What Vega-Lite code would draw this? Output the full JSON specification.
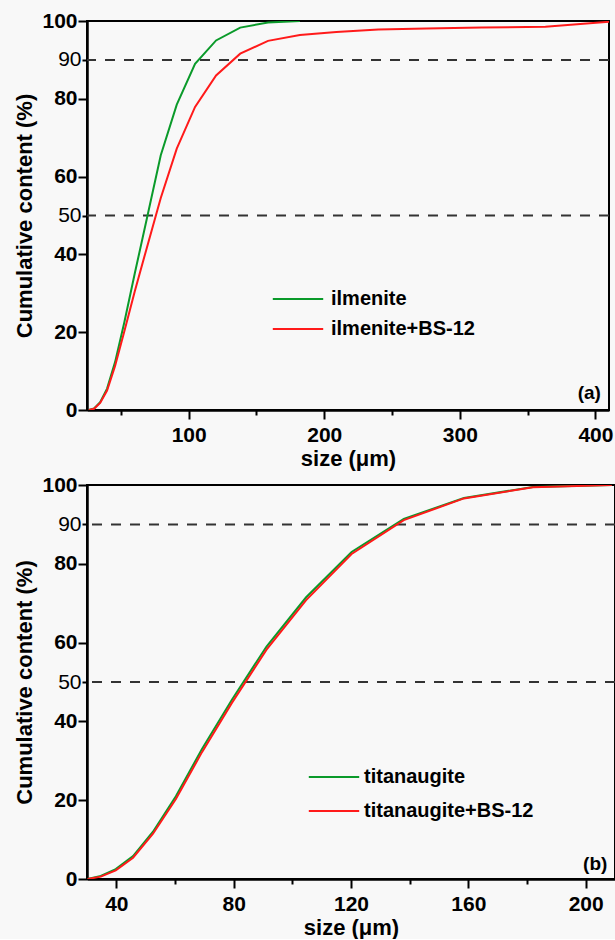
{
  "$schema": "https://vega.github.io/schema/vega-lite/v6.json",
  "background": "#f8f8f8",
  "padding": {"left": 12, "top": 9, "right": 2, "bottom": 0},
  "datasets": {
    "ilm": [
      {"size": 26.3, "cum": 0, "sample": "ilmenite"},
      {"size": 30.2, "cum": 0.4, "sample": "ilmenite"},
      {"size": 34.7, "cum": 2.0, "sample": "ilmenite"},
      {"size": 39.8, "cum": 5.5, "sample": "ilmenite"},
      {"size": 45.7, "cum": 12.3, "sample": "ilmenite"},
      {"size": 52.5, "cum": 22.5, "sample": "ilmenite"},
      {"size": 60.3, "cum": 35.2, "sample": "ilmenite"},
      {"size": 69.2, "cum": 49.3, "sample": "ilmenite"},
      {"size": 79.4, "cum": 65.5, "sample": "ilmenite"},
      {"size": 91.2, "cum": 78.5, "sample": "ilmenite"},
      {"size": 104.7, "cum": 89, "sample": "ilmenite"},
      {"size": 120.2, "cum": 95, "sample": "ilmenite"},
      {"size": 138, "cum": 98.3, "sample": "ilmenite"},
      {"size": 158.5, "cum": 99.6, "sample": "ilmenite"},
      {"size": 182, "cum": 100, "sample": "ilmenite"},
      {"size": 26.3, "cum": 0, "sample": "ilmenite+BS-12"},
      {"size": 30.2, "cum": 0.3, "sample": "ilmenite+BS-12"},
      {"size": 34.7, "cum": 1.8, "sample": "ilmenite+BS-12"},
      {"size": 39.8, "cum": 5.0, "sample": "ilmenite+BS-12"},
      {"size": 45.7, "cum": 11.3, "sample": "ilmenite+BS-12"},
      {"size": 52.5, "cum": 20.2, "sample": "ilmenite+BS-12"},
      {"size": 60.3, "cum": 30.6, "sample": "ilmenite+BS-12"},
      {"size": 69.2, "cum": 41.8, "sample": "ilmenite+BS-12"},
      {"size": 79.4, "cum": 54.5, "sample": "ilmenite+BS-12"},
      {"size": 91.2, "cum": 67.2, "sample": "ilmenite+BS-12"},
      {"size": 104.7, "cum": 77.9, "sample": "ilmenite+BS-12"},
      {"size": 120.2, "cum": 86, "sample": "ilmenite+BS-12"},
      {"size": 138, "cum": 91.6, "sample": "ilmenite+BS-12"},
      {"size": 158.5, "cum": 94.9, "sample": "ilmenite+BS-12"},
      {"size": 182, "cum": 96.4, "sample": "ilmenite+BS-12"},
      {"size": 208.9, "cum": 97.2, "sample": "ilmenite+BS-12"},
      {"size": 239.9, "cum": 97.8, "sample": "ilmenite+BS-12"},
      {"size": 275.4, "cum": 98.1, "sample": "ilmenite+BS-12"},
      {"size": 316.2, "cum": 98.3, "sample": "ilmenite+BS-12"},
      {"size": 363.1, "cum": 98.5, "sample": "ilmenite+BS-12"},
      {"size": 416.9, "cum": 100, "sample": "ilmenite+BS-12"}
    ],
    "tit": [
      {"size": 30.2, "cum": 0, "sample": "titanaugite"},
      {"size": 34.7, "cum": 0.8, "sample": "titanaugite"},
      {"size": 39.8, "cum": 2.5, "sample": "titanaugite"},
      {"size": 45.7, "cum": 5.8, "sample": "titanaugite"},
      {"size": 52.5, "cum": 12, "sample": "titanaugite"},
      {"size": 60.3, "cum": 21, "sample": "titanaugite"},
      {"size": 69.2, "cum": 33, "sample": "titanaugite"},
      {"size": 79.4, "cum": 45.5, "sample": "titanaugite"},
      {"size": 91.2, "cum": 59, "sample": "titanaugite"},
      {"size": 104.7, "cum": 71.5, "sample": "titanaugite"},
      {"size": 120.2, "cum": 83, "sample": "titanaugite"},
      {"size": 138, "cum": 91.4, "sample": "titanaugite"},
      {"size": 158.5, "cum": 96.7, "sample": "titanaugite"},
      {"size": 182, "cum": 99.5, "sample": "titanaugite"},
      {"size": 208.9, "cum": 100, "sample": "titanaugite"},
      {"size": 30.2, "cum": 0, "sample": "titanaugite+BS-12"},
      {"size": 34.7, "cum": 0.6, "sample": "titanaugite+BS-12"},
      {"size": 39.8, "cum": 2.2, "sample": "titanaugite+BS-12"},
      {"size": 45.7, "cum": 5.4, "sample": "titanaugite+BS-12"},
      {"size": 52.5, "cum": 11.5, "sample": "titanaugite+BS-12"},
      {"size": 60.3, "cum": 20.3, "sample": "titanaugite+BS-12"},
      {"size": 69.2, "cum": 32.2, "sample": "titanaugite+BS-12"},
      {"size": 79.4, "cum": 44.7, "sample": "titanaugite+BS-12"},
      {"size": 91.2, "cum": 58.2, "sample": "titanaugite+BS-12"},
      {"size": 104.7, "cum": 70.8, "sample": "titanaugite+BS-12"},
      {"size": 120.2, "cum": 82.5, "sample": "titanaugite+BS-12"},
      {"size": 138, "cum": 91.1, "sample": "titanaugite+BS-12"},
      {"size": 158.5, "cum": 96.6, "sample": "titanaugite+BS-12"},
      {"size": 182, "cum": 99.4, "sample": "titanaugite+BS-12"},
      {"size": 208.9, "cum": 100, "sample": "titanaugite+BS-12"}
    ],
    "levels": [{"level": 50}, {"level": 90}],
    "tagA": [{"tag": "(a)"}],
    "tagB": [{"tag": "(b)"}]
  },
  "config": {
    "font": "Liberation Sans",
    "view": {"stroke": "black", "strokeWidth": 2, "fill": "#f8f8f8"},
    "axis": {
      "grid": false,
      "domainColor": "black",
      "domainWidth": 2.5,
      "tickColor": "black",
      "tickWidth": 2,
      "labelOverlap": false,
      "labelFont": "Liberation Sans",
      "labelFontSize": 21,
      "labelColor": "black",
      "titleFont": "Liberation Sans",
      "titleFontSize": 22,
      "titleFontWeight": "bold",
      "titleColor": "black"
    },
    "legend": {
      "labelFont": "Liberation Sans",
      "labelFontSize": 20,
      "labelFontWeight": "bold",
      "labelColor": "black",
      "labelLimit": 400
    }
  },
  "spacing": 3,
  "resolve": {
    "scale": {"x": "independent", "y": "independent", "color": "independent"},
    "legend": {"color": "independent"}
  },
  "vconcat": [
    {
      "width": 522,
      "height": 389,
      "layer": [
        {
          "data": {"name": "levels"},
          "mark": {"type": "rule", "strokeDash": [10, 9], "strokeWidth": 2, "color": "#333333"},
          "encoding": {
            "y": {
              "field": "level", "type": "quantitative",
              "scale": {"domain": [0, 100], "nice": false},
              "axis": {
                "title": "Cumulative content (%)",
                "values": [0, 20, 40, 50, 60, 80, 90, 100],
                "labelFontWeight": {"condition": {"test": "datum.value == 50 || datum.value == 90", "value": "normal"}, "value": "bold"},
                "labelOverlap": false,
                "tickSize": {"condition": {"test": "datum.value % 20 != 0", "value": 5}, "value": 9},
                "labelPadding": 1,
                "titlePadding": 5
              }
            }
          }
        },
        {
          "data": {"name": "ilm"},
          "mark": {"type": "line", "strokeWidth": 2, "clip": true},
          "encoding": {
            "x": {
              "field": "size", "type": "quantitative",
              "scale": {"domain": [25, 410], "nice": false, "zero": false},
              "axis": {
                "title": "size (μm)",
                "values": [50, 100, 150, 200, 250, 300, 350, 400],
                "labelExpr": "datum.value % 100 == 0 ? datum.label : ''",
                "labelFontWeight": "bold",
                "labelOverlap": false,
                "labelPadding": 5,
                "tickSize": {"condition": {"test": "datum.value % 100 != 0", "value": 5}, "value": 9},
                "titlePadding": 3
              }
            },
            "y": {
              "field": "cum", "type": "quantitative",
              "scale": {"domain": [0, 100], "nice": false},
              "axis": {
                "title": "Cumulative content (%)",
                "values": [0, 20, 40, 50, 60, 80, 90, 100],
                "labelFontWeight": {"condition": {"test": "datum.value == 50 || datum.value == 90", "value": "normal"}, "value": "bold"},
                "labelOverlap": false,
                "tickSize": {"condition": {"test": "datum.value % 20 != 0", "value": 5}, "value": 9},
                "labelPadding": 1,
                "titlePadding": 5
              }
            },
            "color": {
              "field": "sample", "type": "nominal",
              "scale": {"domain": ["ilmenite", "ilmenite+BS-12"], "range": ["#0a9a2a", "#ff1a1a"]},
              "legend": {
                "title": null,
                "orient": "none",
                "legendX": 196,
                "legendY": 263,
                "padding": 0,
                "symbolType": "M-1.8,0H1.8",
                "symbolSize": 784,
                "symbolStrokeWidth": 2,
                "labelOffset": 18,
                "rowPadding": 5
              }
            }
          }
        },
        {
          "data": {"name": "tagA"},
          "mark": {"type": "text", "align": "right", "baseline": "middle", "fontSize": 19, "fontWeight": "bold", "color": "black"},
          "encoding": {"text": {"field": "tag"}, "x": {"datum": 404}, "y": {"datum": 4.4}}
        }
      ]
    },
    {
      "width": 528,
      "height": 394,
      "layer": [
        {
          "data": {"name": "levels"},
          "mark": {"type": "rule", "strokeDash": [10, 9], "strokeWidth": 2, "color": "#333333"},
          "encoding": {
            "y": {
              "field": "level", "type": "quantitative",
              "scale": {"domain": [0, 100], "nice": false},
              "axis": {
                "title": "Cumulative content (%)",
                "values": [0, 20, 40, 50, 60, 80, 90, 100],
                "labelFontWeight": {"condition": {"test": "datum.value == 50 || datum.value == 90", "value": "normal"}, "value": "bold"},
                "labelOverlap": false,
                "tickSize": {"condition": {"test": "datum.value % 20 != 0", "value": 5}, "value": 9},
                "labelPadding": 1,
                "titlePadding": 5
              }
            }
          }
        },
        {
          "data": {"name": "tit"},
          "mark": {"type": "line", "strokeWidth": 2, "clip": true},
          "encoding": {
            "x": {
              "field": "size", "type": "quantitative",
              "scale": {"domain": [30, 210], "nice": false, "zero": false},
              "axis": {
                "title": "size (μm)",
                "values": [40, 60, 80, 100, 120, 140, 160, 180, 200],
                "labelExpr": "datum.value % 40 == 0 ? datum.label : ''",
                "labelFontWeight": "bold",
                "labelOverlap": false,
                "labelPadding": 5,
                "tickSize": {"condition": {"test": "datum.value % 40 != 0", "value": 5}, "value": 9},
                "titlePadding": 3
              }
            },
            "y": {
              "field": "cum", "type": "quantitative",
              "scale": {"domain": [0, 100], "nice": false},
              "axis": {
                "title": "Cumulative content (%)",
                "values": [0, 20, 40, 50, 60, 80, 90, 100],
                "labelFontWeight": {"condition": {"test": "datum.value == 50 || datum.value == 90", "value": "normal"}, "value": "bold"},
                "labelOverlap": false,
                "tickSize": {"condition": {"test": "datum.value % 20 != 0", "value": 5}, "value": 9},
                "labelPadding": 1,
                "titlePadding": 5
              }
            },
            "color": {
              "field": "sample", "type": "nominal",
              "scale": {"domain": ["titanaugite", "titanaugite+BS-12"], "range": ["#0a9a2a", "#ff1a1a"]},
              "legend": {
                "title": null,
                "orient": "none",
                "legendX": 232,
                "legendY": 277,
                "padding": 0,
                "symbolType": "M-1.8,0H1.8",
                "symbolSize": 784,
                "symbolStrokeWidth": 2,
                "labelOffset": 15,
                "rowPadding": 9
              }
            }
          }
        },
        {
          "data": {"name": "tagB"},
          "mark": {"type": "text", "align": "right", "baseline": "middle", "fontSize": 19, "fontWeight": "bold", "color": "black"},
          "encoding": {"text": {"field": "tag"}, "x": {"datum": 207.4}, "y": {"datum": 3.8}}
        }
      ]
    }
  ]
}
